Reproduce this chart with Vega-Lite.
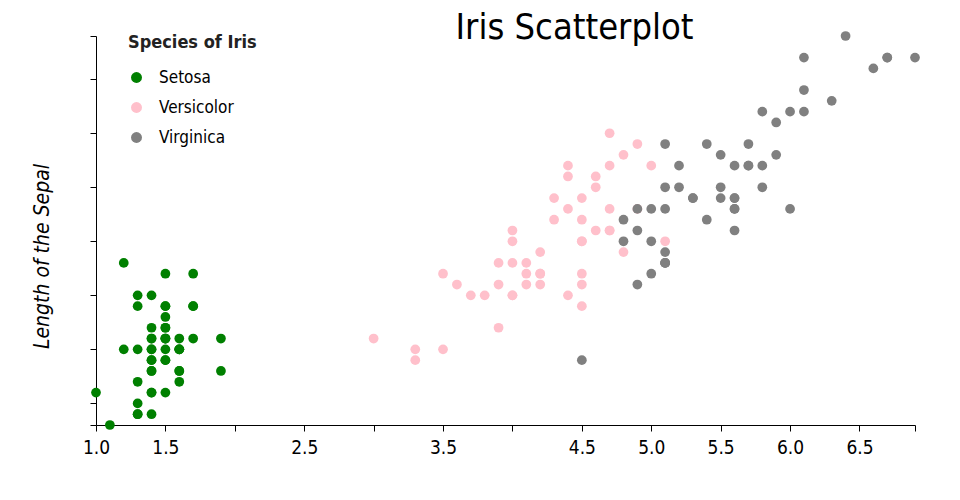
{
  "$schema": "https://vega.github.io/schema/vega-lite/v6.json",
  "width": 819,
  "height": 389,
  "autosize": {"type": "none"},
  "padding": {"left": 96, "top": 36, "right": 45, "bottom": 75},
  "title": {"text": "Iris Scatterplot", "fontSize": 36, "fontWeight": "normal", "font": "DejaVu Sans Condensed, DejaVu Sans, sans-serif", "color": "#000", "anchor": "middle", "frame": "group", "dx": 69, "offset": -4, "dy": 12},
  "config": {
    "view": {"stroke": null},
    "font": "DejaVu Sans Condensed, DejaVu Sans, sans-serif",
    "axis": {"domainColor": "#000", "tickColor": "#000", "labelColor": "#000", "titleColor": "#000", "grid": false, "tickSize": 6}
  },
  "data": {"values": [
    {"species":"Setosa","sepal":5.1,"petal":1.4},{"species":"Setosa","sepal":4.9,"petal":1.4},{"species":"Setosa","sepal":4.7,"petal":1.3},{"species":"Setosa","sepal":4.6,"petal":1.5},{"species":"Setosa","sepal":5.0,"petal":1.4},
    {"species":"Setosa","sepal":5.4,"petal":1.7},{"species":"Setosa","sepal":4.6,"petal":1.4},{"species":"Setosa","sepal":5.0,"petal":1.5},{"species":"Setosa","sepal":4.4,"petal":1.4},{"species":"Setosa","sepal":4.9,"petal":1.5},
    {"species":"Setosa","sepal":5.4,"petal":1.5},{"species":"Setosa","sepal":4.8,"petal":1.6},{"species":"Setosa","sepal":4.8,"petal":1.4},{"species":"Setosa","sepal":4.3,"petal":1.1},{"species":"Setosa","sepal":5.8,"petal":1.2},
    {"species":"Setosa","sepal":5.7,"petal":1.5},{"species":"Setosa","sepal":5.4,"petal":1.3},{"species":"Setosa","sepal":5.1,"petal":1.4},{"species":"Setosa","sepal":5.7,"petal":1.7},{"species":"Setosa","sepal":5.1,"petal":1.5},
    {"species":"Setosa","sepal":5.4,"petal":1.7},{"species":"Setosa","sepal":5.1,"petal":1.5},{"species":"Setosa","sepal":4.6,"petal":1.0},{"species":"Setosa","sepal":5.1,"petal":1.7},{"species":"Setosa","sepal":4.8,"petal":1.9},
    {"species":"Setosa","sepal":5.0,"petal":1.6},{"species":"Setosa","sepal":5.0,"petal":1.6},{"species":"Setosa","sepal":5.2,"petal":1.5},{"species":"Setosa","sepal":5.2,"petal":1.4},{"species":"Setosa","sepal":4.7,"petal":1.6},
    {"species":"Setosa","sepal":4.8,"petal":1.6},{"species":"Setosa","sepal":5.4,"petal":1.5},{"species":"Setosa","sepal":5.2,"petal":1.5},{"species":"Setosa","sepal":5.5,"petal":1.4},{"species":"Setosa","sepal":4.9,"petal":1.5},
    {"species":"Setosa","sepal":5.0,"petal":1.2},{"species":"Setosa","sepal":5.5,"petal":1.3},{"species":"Setosa","sepal":4.9,"petal":1.4},{"species":"Setosa","sepal":4.4,"petal":1.3},{"species":"Setosa","sepal":5.1,"petal":1.5},
    {"species":"Setosa","sepal":5.0,"petal":1.3},{"species":"Setosa","sepal":4.5,"petal":1.3},{"species":"Setosa","sepal":4.4,"petal":1.3},{"species":"Setosa","sepal":5.0,"petal":1.6},{"species":"Setosa","sepal":5.1,"petal":1.9},
    {"species":"Setosa","sepal":4.8,"petal":1.4},{"species":"Setosa","sepal":5.1,"petal":1.6},{"species":"Setosa","sepal":4.6,"petal":1.4},{"species":"Setosa","sepal":5.3,"petal":1.5},{"species":"Setosa","sepal":5.0,"petal":1.4},
    {"species":"Versicolor","sepal":7.0,"petal":4.7},{"species":"Versicolor","sepal":6.4,"petal":4.5},{"species":"Versicolor","sepal":6.9,"petal":4.9},{"species":"Versicolor","sepal":5.5,"petal":4.0},{"species":"Versicolor","sepal":6.5,"petal":4.6},
    {"species":"Versicolor","sepal":5.7,"petal":4.5},{"species":"Versicolor","sepal":6.3,"petal":4.7},{"species":"Versicolor","sepal":4.9,"petal":3.3},{"species":"Versicolor","sepal":6.6,"petal":4.6},{"species":"Versicolor","sepal":5.2,"petal":3.9},
    {"species":"Versicolor","sepal":5.0,"petal":3.5},{"species":"Versicolor","sepal":5.9,"petal":4.2},{"species":"Versicolor","sepal":6.0,"petal":4.0},{"species":"Versicolor","sepal":6.1,"petal":4.7},{"species":"Versicolor","sepal":5.6,"petal":3.6},
    {"species":"Versicolor","sepal":6.7,"petal":4.4},{"species":"Versicolor","sepal":5.6,"petal":4.5},{"species":"Versicolor","sepal":5.8,"petal":4.1},{"species":"Versicolor","sepal":6.2,"petal":4.5},{"species":"Versicolor","sepal":5.6,"petal":3.9},
    {"species":"Versicolor","sepal":5.9,"petal":4.8},{"species":"Versicolor","sepal":6.1,"petal":4.0},{"species":"Versicolor","sepal":6.3,"petal":4.9},{"species":"Versicolor","sepal":6.1,"petal":4.7},{"species":"Versicolor","sepal":6.4,"petal":4.3},
    {"species":"Versicolor","sepal":6.6,"petal":4.4},{"species":"Versicolor","sepal":6.8,"petal":4.8},{"species":"Versicolor","sepal":6.7,"petal":5.0},{"species":"Versicolor","sepal":6.0,"petal":4.5},{"species":"Versicolor","sepal":5.7,"petal":3.5},
    {"species":"Versicolor","sepal":5.5,"petal":3.8},{"species":"Versicolor","sepal":5.5,"petal":3.7},{"species":"Versicolor","sepal":5.8,"petal":3.9},{"species":"Versicolor","sepal":6.0,"petal":5.1},{"species":"Versicolor","sepal":5.4,"petal":4.5},
    {"species":"Versicolor","sepal":6.0,"petal":4.5},{"species":"Versicolor","sepal":6.7,"petal":4.7},{"species":"Versicolor","sepal":6.3,"petal":4.4},{"species":"Versicolor","sepal":5.6,"petal":4.1},{"species":"Versicolor","sepal":5.5,"petal":4.0},
    {"species":"Versicolor","sepal":5.5,"petal":4.4},{"species":"Versicolor","sepal":6.1,"petal":4.6},{"species":"Versicolor","sepal":5.8,"petal":4.0},{"species":"Versicolor","sepal":5.0,"petal":3.3},{"species":"Versicolor","sepal":5.6,"petal":4.2},
    {"species":"Versicolor","sepal":5.7,"petal":4.2},{"species":"Versicolor","sepal":5.7,"petal":4.2},{"species":"Versicolor","sepal":6.2,"petal":4.3},{"species":"Versicolor","sepal":5.1,"petal":3.0},{"species":"Versicolor","sepal":5.7,"petal":4.1},
    {"species":"Virginica","sepal":6.3,"petal":6.0},{"species":"Virginica","sepal":5.8,"petal":5.1},{"species":"Virginica","sepal":7.1,"petal":5.9},{"species":"Virginica","sepal":6.3,"petal":5.6},{"species":"Virginica","sepal":6.5,"petal":5.8},
    {"species":"Virginica","sepal":7.6,"petal":6.6},{"species":"Virginica","sepal":4.9,"petal":4.5},{"species":"Virginica","sepal":7.3,"petal":6.3},{"species":"Virginica","sepal":6.7,"petal":5.8},{"species":"Virginica","sepal":7.2,"petal":6.1},
    {"species":"Virginica","sepal":6.5,"petal":5.1},{"species":"Virginica","sepal":6.4,"petal":5.3},{"species":"Virginica","sepal":6.8,"petal":5.5},{"species":"Virginica","sepal":5.7,"petal":5.0},{"species":"Virginica","sepal":5.8,"petal":5.1},
    {"species":"Virginica","sepal":6.4,"petal":5.3},{"species":"Virginica","sepal":6.5,"petal":5.5},{"species":"Virginica","sepal":7.7,"petal":6.7},{"species":"Virginica","sepal":7.7,"petal":6.9},{"species":"Virginica","sepal":6.0,"petal":5.0},
    {"species":"Virginica","sepal":6.9,"petal":5.7},{"species":"Virginica","sepal":5.6,"petal":4.9},{"species":"Virginica","sepal":7.7,"petal":6.7},{"species":"Virginica","sepal":6.3,"petal":4.9},{"species":"Virginica","sepal":6.7,"petal":5.7},
    {"species":"Virginica","sepal":7.2,"petal":6.0},{"species":"Virginica","sepal":6.2,"petal":4.8},{"species":"Virginica","sepal":6.1,"petal":4.9},{"species":"Virginica","sepal":6.4,"petal":5.6},{"species":"Virginica","sepal":7.2,"petal":5.8},
    {"species":"Virginica","sepal":7.4,"petal":6.1},{"species":"Virginica","sepal":7.9,"petal":6.4},{"species":"Virginica","sepal":6.4,"petal":5.6},{"species":"Virginica","sepal":6.3,"petal":5.1},{"species":"Virginica","sepal":6.1,"petal":5.6},
    {"species":"Virginica","sepal":7.7,"petal":6.1},{"species":"Virginica","sepal":6.3,"petal":5.6},{"species":"Virginica","sepal":6.4,"petal":5.5},{"species":"Virginica","sepal":6.0,"petal":4.8},{"species":"Virginica","sepal":6.9,"petal":5.4},
    {"species":"Virginica","sepal":6.7,"petal":5.6},{"species":"Virginica","sepal":6.9,"petal":5.1},{"species":"Virginica","sepal":5.8,"petal":5.1},{"species":"Virginica","sepal":6.8,"petal":5.9},{"species":"Virginica","sepal":6.7,"petal":5.7},
    {"species":"Virginica","sepal":6.7,"petal":5.2},{"species":"Virginica","sepal":6.3,"petal":5.0},{"species":"Virginica","sepal":6.5,"petal":5.2},{"species":"Virginica","sepal":6.2,"petal":5.4},{"species":"Virginica","sepal":5.9,"petal":5.1}
  ]},
  "mark": {"type": "circle", "size": 95, "opacity": 1},
  "encoding": {
    "x": {
      "field": "petal", "type": "quantitative",
      "scale": {"domain": [1.0, 6.9], "nice": false, "zero": false},
      "axis": {
        "title": null,
        "values": [1.0, 1.5, 2.0, 2.5, 3.0, 3.5, 4.0, 4.5, 5.0, 5.5, 6.0, 6.5, 6.9],
        "labelExpr": "(datum.value == 2 || datum.value == 3 || datum.value == 4 || datum.value == 6.9) ? '' : format(datum.value, '.1f')",
        "labelOverlap": false, "labelFlush": false, "labelFontSize": 19, "labelPadding": 7
      }
    },
    "y": {
      "field": "sepal", "type": "quantitative",
      "scale": {"domain": [4.3, 7.9], "nice": false, "zero": false},
      "axis": {
        "title": "Length of the Sepal",
        "values": [4.3, 4.5, 5.0, 5.5, 6.0, 6.5, 7.0, 7.5, 7.9],
        "labels": false,
        "titleFontSize": 21, "titleFontStyle": "italic", "titleFontWeight": "normal",
        "titleX": -54, "titleY": 220, "titleAngle": -90, "titleAlign": "center", "titleBaseline": "middle"
      }
    },
    "color": {
      "field": "species", "type": "nominal",
      "scale": {"domain": ["Setosa", "Versicolor", "Virginica"], "range": ["#008000", "#ffc0cb", "#808080"]},
      "legend": {
        "title": "Species of Iris", "orient": "none", "legendX": 32, "legendY": -2,
        "titleFontSize": 18, "titleFontWeight": "bold", "titleColor": "#222", "titlePadding": 17,
        "labelFontSize": 17, "labelColor": "#000", "symbolSize": 120, "symbolType": "circle",
        "rowPadding": 12, "labelOffset": 14
      }
    }
  }
}
